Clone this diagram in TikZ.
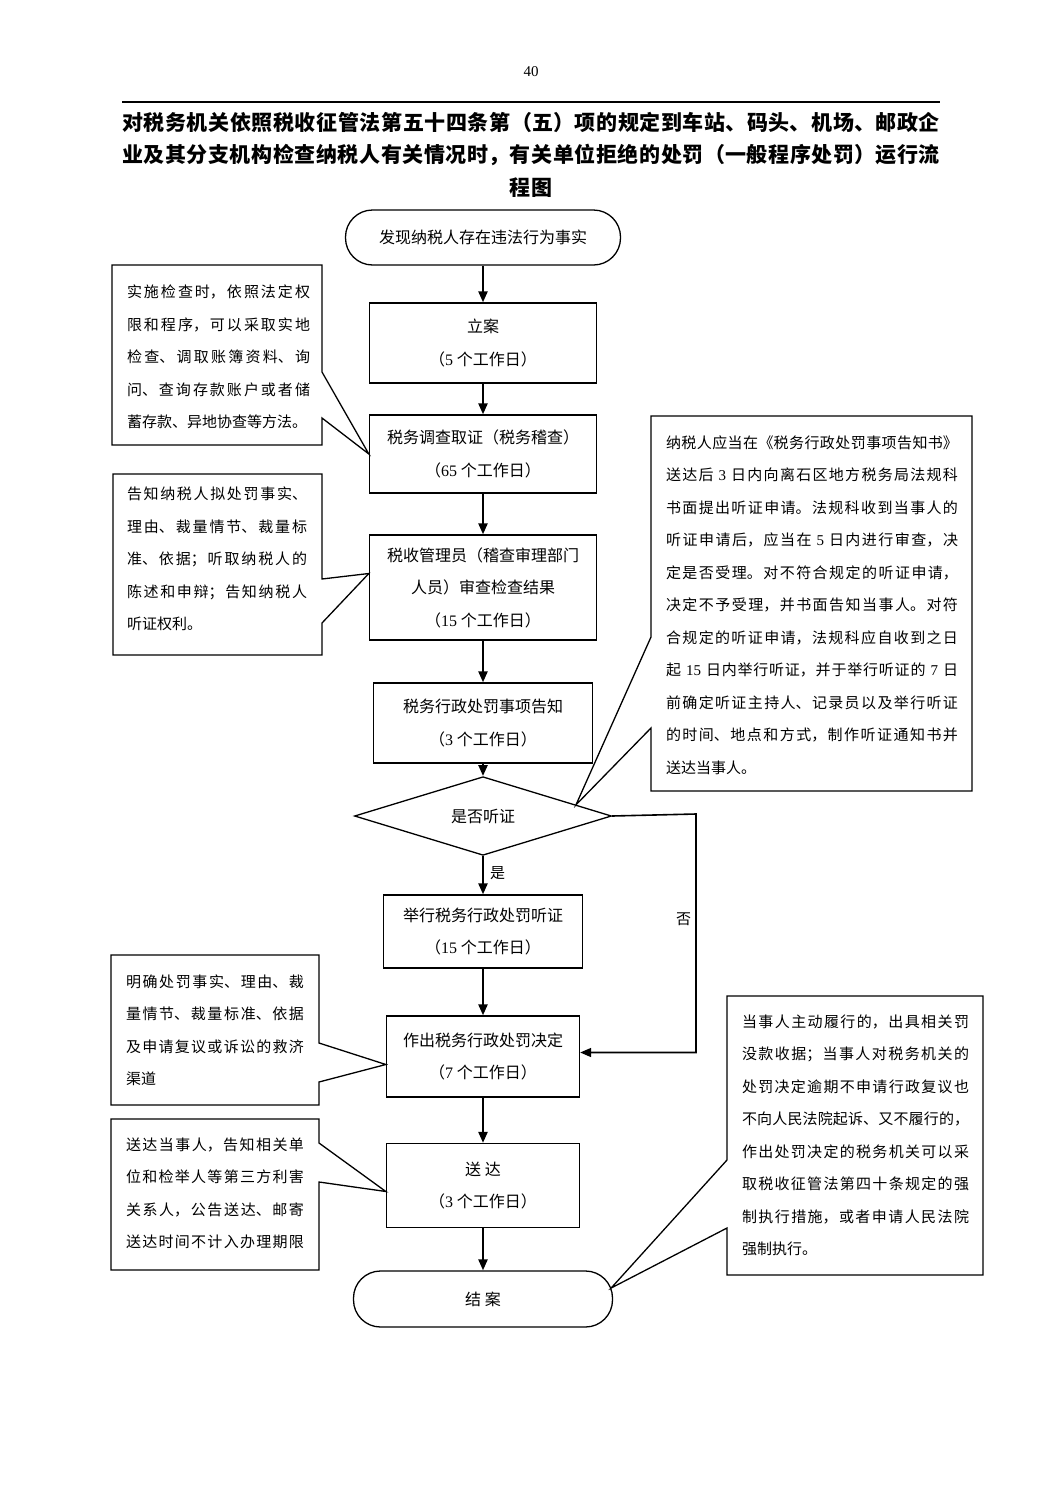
\documentclass[tikz,border=0pt]{standalone}
\usepackage{fontspec}
\setmainfont{Noto Sans CJK SC}
\newfontfamily\lat{Liberation Serif}
\usetikzlibrary{arrows.meta,shapes.geometric,calc}
\XeTeXlinebreaklocale "zh"
\XeTeXlinebreakskip=0.5pt plus 8pt minus 0.5pt
\tolerance=10000 \hbadness=10000 \hfuzz=4pt \vbadness=10000
\setlength\parskip{0pt}
\newcommand\dg[1]{{\lat #1}}
\protected\def\boxfont{\fontsize{16}{32.5}\selectfont}
\newcommand\jl[1]{{\noindent\leftskip=0pt\rightskip=0pt\parfillskip=0pt #1\par}}
\newcommand\lastl[1]{{\noindent\leftskip=0pt\rightskip=0pt\parfillskip=0pt plus 1fil\mbox{#1}\par}}
\newcommand\cln[1]{{\noindent\leftskip=0pt plus 1fil\rightskip=0pt plus 1fil\parfillskip=0pt #1\par}}
\begin{document}
\begin{tikzpicture}[x=1pt,y=-1pt,
  box/.style={draw,line width=1.3pt,align=center,inner sep=0pt,font=\boxfont},
  arr/.style={line width=2.3pt,-{Triangle[length=11pt,width=9pt]}},
  noarr/.style={line width=1.6pt,-{Triangle[length=11pt,width=9pt]}},
  callout/.style={draw,line width=1.3pt,line join=miter,fill=white},
  ctext/.style={inner sep=0pt,font=\fontsize{15}{32.5}\selectfont},
  lbl/.style={inner sep=0pt,font=\fontsize{15}{18}\selectfont}]
\useasboundingbox (0,0) rectangle (1063,1502);
\fill[white] (0,0) rectangle (1063,1502);

% page number and title
\node[lbl,font=\lat\fontsize{15}{18}\selectfont] (pg) at (531,72) {40};
\draw[line width=1.5pt] (122,102) -- (940,102);
\node[inner sep=0pt,text width=818pt,font=\bfseries\fontsize{21}{32.5}\selectfont] (ttl) at (531,154.5)
 {\jl{对税务机关依照税收征管法第五十四条第（五）项的规定到车站、码头、机场、邮政企}%
  \jl{业及其分支机构检查纳税人有关情况时，有关单位拒绝的处罚（一般程序处罚）运行流}%
  \cln{程图}};

% main flow
\node[box,minimum width=275pt,minimum height=55pt,rounded corners=27pt] (s) at (483,237.5) {发现纳税人存在违法行为事实};
\node[box,minimum width=227pt,minimum height=80pt] (b1) at (483,343) {立案\\（\dg{5} 个工作日）};
\node[box,minimum width=227pt,minimum height=78pt] (b2) at (483,454) {税务调查取证（税务稽查）\\（\dg{65} 个工作日）};
\node[box,minimum width=227pt,minimum height=105pt] (b3) at (483,587.5) {税收管理员（稽查审理部门\\人员）审查检查结果\\（\dg{15} 个工作日）};
\node[box,minimum width=219pt,minimum height=80pt] (b4) at (483,723) {税务行政处罚事项告知\\（\dg{3} 个工作日）};
\node[box,diamond,minimum width=257pt,minimum height=68pt] (d) at (483,816) {是否听证};
\node[box,minimum width=199pt,minimum height=73pt] (b5) at (483,931.5) {举行税务行政处罚听证\\（\dg{15} 个工作日）};
\node[box,minimum width=193pt,minimum height=81pt] (b6) at (483,1056.5) {作出税务行政处罚决定\\（\dg{7} 个工作日）};
\node[box,minimum width=193pt,minimum height=84pt] (b7) at (483,1185.5) {送 达\\（\dg{3} 个工作日）};
\node[box,minimum width=259pt,minimum height=56pt,rounded corners=27pt] (e) at (483,1299) {结 案};

\draw[arr] (s) -- (b1);
\draw[arr] (b1) -- (b2);
\draw[arr] (b2) -- (b3);
\draw[arr] (b3) -- (b4);
\draw[arr] (b4) -- (d.north);
\draw[arr] (d.south) -- node[lbl,anchor=west,xshift=6pt,yshift=2pt] {是} (b5);
\coordinate (nc) at (696,814);
\draw[noarr] (d.east) -- (nc) |- node[lbl,pos=0.22,anchor=east,xshift=-4pt] {否} ($(b6.east)+(0,-4)$);
\draw[arr] (b5) -- (b6);
\draw[arr] (b6) -- (b7);
\draw[arr] (b7) -- (e);

% callouts
\draw[callout] (112,265) -- (322,265) -- (322,372) -- (b2.west) -- (322,418) -- (322,445) -- (112,445) -- cycle;
\node[ctext,text width=183pt] (c1) at (218.5,357)
 {\jl{实施检查时，依照法定权}\jl{限和程序，可以采取实地}\jl{检查、调取账簿资料、询}\jl{问、查询存款账户或者储}\lastl{蓄存款、异地协查等方法。}};

\draw[callout] (113,474) -- (322,474) -- (322,579) -- ($(b3.west)+(0,-14)$) -- (322,623) -- (322,655) -- (113,655) -- cycle;
\node[ctext,text width=180pt] (c2) at (217,559)
 {\jl{告知纳税人拟处罚事实、}\jl{理由、裁量情节、裁量标}\jl{准、依据；听取纳税人的}\jl{陈述和申辩；告知纳税人}\lastl{听证权利。}};

\draw[callout] (651,416) -- (972,416) -- (972,791) -- (651,791) -- (651,728) -- ($(d.north)!0.72!(d.east)$) -- (651,637) -- cycle;
\node[ctext,text width=292pt] (c3) at (812,605)
 {\jl{纳税人应当在《税务行政处罚事项告知书》}\jl{送达后 \dg{3} 日内向离石区地方税务局法规科}\jl{书面提出听证申请。法规科收到当事人的}\jl{听证申请后，应当在 \dg{5} 日内进行审查，决}\jl{定是否受理。对不符合规定的听证申请，}\jl{决定不予受理，并书面告知当事人。对符}\jl{合规定的听证申请，法规科应自收到之日}\jl{起 \dg{15} 日内举行听证，并于举行听证的 \dg{7} 日}\jl{前确定听证主持人、记录员以及举行听证}\jl{的时间、地点和方式，制作听证通知书并}\lastl{送达当事人。}};

\draw[callout] (111,955) -- (319,955) -- (319,1043) -- ($(b6.west)+(0,8)$) -- (319,1082) -- (319,1105) -- (111,1105) -- cycle;
\node[ctext,text width=178pt] (c4) at (215,1030)
 {\jl{明确处罚事实、理由、裁}\jl{量情节、裁量标准、依据}\jl{及申请复议或诉讼的救济}\lastl{渠道}};

\draw[callout] (111,1119) -- (319,1119) -- (319,1143) -- ($(b7.west)+(0,6)$) -- (319,1182) -- (319,1270) -- (111,1270) -- cycle;
\node[ctext,text width=178pt] (c5) at (215,1193.5)
 {\jl{送达当事人，告知相关单}\jl{位和检举人等第三方利害}\jl{关系人，公告送达、邮寄}\jl{送达时间不计入办理期限}};

\draw[callout] (727,996) -- (983,996) -- (983,1275) -- (727,1275) -- (727,1228) -- ($(e.east)+(-2,-11)$) -- (727,1160) -- cycle;
\node[ctext,text width=227pt] (c6) at (855.5,1135.5)
 {\jl{当事人主动履行的，出具相关罚}\jl{没款收据；当事人对税务机关的}\jl{处罚决定逾期不申请行政复议也}\jl{不向人民法院起诉、又不履行的，}\jl{作出处罚决定的税务机关可以采}\jl{取税收征管法第四十条规定的强}\jl{制执行措施，或者申请人民法院}\lastl{强制执行。}};
\end{tikzpicture}
\end{document}
